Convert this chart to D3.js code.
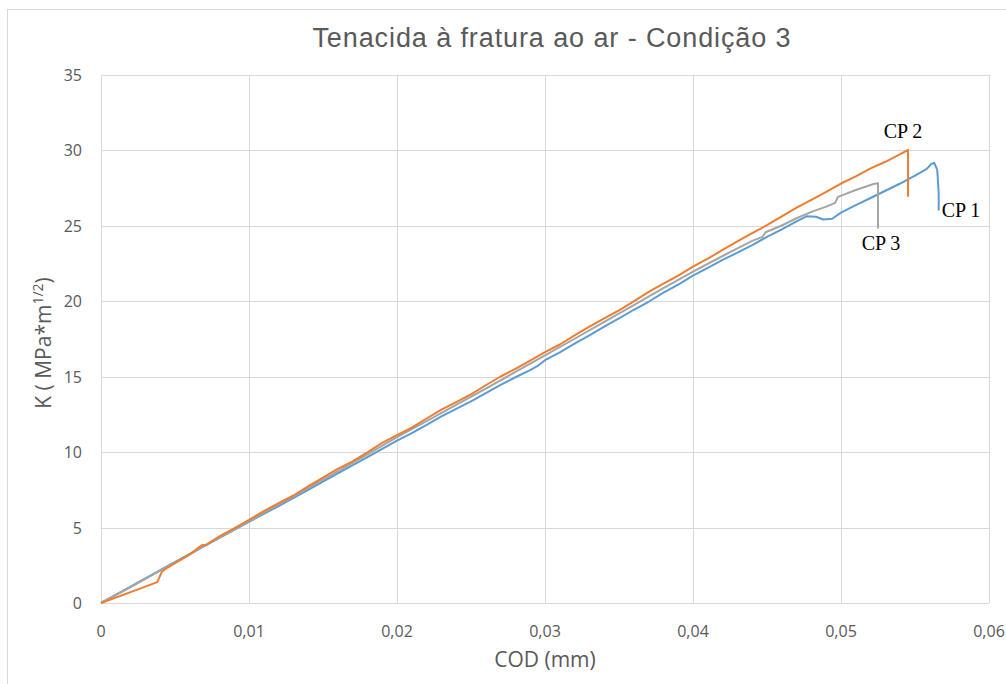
<!DOCTYPE html>
<html>
<head>
<meta charset="utf-8">
<script src="https://cdn.jsdelivr.net/npm/d3@7"></script>
<style>
  body { margin: 0; background: #fff; }
  text { fill: #595959; }
</style>
</head>
<body>
<div id="chart"></div>
<script>
// COD (mm), K (MPa*m^1/2)
const cp1 = [[0,0],[0.002,1.08],[0.004,2.18],[0.006,3.25],[0.008,4.32],[0.010,5.38],[0.012,6.42],[0.014,7.5],
  [0.016,8.58],[0.018,9.66],[0.020,10.75],[0.021,11.25],[0.022,11.8],[0.023,12.36],[0.024,12.86],[0.025,13.35],
  [0.026,13.9],[0.027,14.45],[0.028,14.95],[0.029,15.42],[0.0295,15.7],[0.030,16.08],[0.031,16.6],[0.032,17.18],
  [0.033,17.72],[0.034,18.3],[0.035,18.85],[0.036,19.42],[0.037,19.95],[0.038,20.55],[0.039,21.08],[0.040,21.68],
  [0.041,22.2],[0.042,22.72],[0.043,23.2],[0.044,23.7],[0.045,24.25],[0.046,24.75],[0.047,25.28],[0.0477,25.62],
  [0.0483,25.58],[0.0488,25.4],[0.0494,25.45],[0.050,25.85],[0.051,26.35],[0.052,26.82],[0.053,27.3],[0.054,27.78],
  [0.055,28.3],[0.0558,28.75],[0.0561,29.08],[0.0563,29.15],[0.0565,28.7],[0.0566,27.2],[0.0566,26.0]];
const cp2 = [[0,0],[0.002,0.72],[0.0038,1.38],[0.0039,1.6],[0.0041,2.05],[0.0045,2.35],[0.006,3.22],[0.0068,3.82],
  [0.0071,3.85],[0.008,4.42],[0.009,4.95],[0.010,5.5],[0.011,6.08],[0.012,6.62],[0.013,7.12],[0.014,7.72],
  [0.015,8.3],[0.016,8.88],[0.017,9.38],[0.018,9.98],[0.019,10.6],[0.020,11.12],[0.021,11.62],[0.022,12.22],
  [0.023,12.8],[0.024,13.3],[0.025,13.82],[0.026,14.42],[0.027,15.0],[0.028,15.5],[0.029,16.05],[0.030,16.62],
  [0.031,17.12],[0.032,17.72],[0.033,18.3],[0.034,18.85],[0.035,19.38],[0.036,19.98],[0.037,20.6],[0.038,21.15],
  [0.039,21.68],[0.040,22.28],[0.041,22.8],[0.042,23.38],[0.043,23.95],[0.044,24.5],[0.045,25.02],[0.046,25.6],
  [0.047,26.18],[0.048,26.7],[0.049,27.22],[0.050,27.78],[0.051,28.25],[0.052,28.78],[0.053,29.22],[0.054,29.72],
  [0.05453,30.0],[0.05453,26.9]];
const cp3 = [[0,0],[0.002,1.05],[0.004,2.15],[0.006,3.22],[0.008,4.33],[0.010,5.42],[0.012,6.52],[0.014,7.6],
  [0.016,8.72],[0.018,9.85],[0.020,10.98],[0.022,12.05],[0.024,13.12],[0.026,14.2],[0.028,15.3],[0.030,16.4],
  [0.032,17.5],[0.034,18.62],[0.036,19.72],[0.038,20.85],[0.040,21.95],[0.042,22.98],[0.044,23.98],[0.0447,24.25],
  [0.0449,24.55],[0.046,25.0],[0.047,25.48],[0.048,25.9],[0.049,26.25],[0.0496,26.5],[0.0498,26.9],[0.051,27.35],
  [0.0522,27.75],[0.0525,27.8],[0.0525,24.8]];

const seriesNames = ["CP 1", "CP 2", "CP 3"];
const seriesColors = ["#5b9bd5", "#ed7d31", "#a5a5a5"];
const xTicks = [0, 0.01, 0.02, 0.03, 0.04, 0.05, 0.06];
const yTicks = [0, 5, 10, 15, 20, 25, 30, 35];

const W = 1006, H = 684;
const svg = d3.select("#chart").append("svg")
  .attr("width", W).attr("height", H);

svg.append("rect").attr("x", 7.5).attr("y", 9.5)
  .attr("width", W).attr("height", H)
  .attr("fill", "#fff").attr("stroke", "#d9d9d9");

const x = d3.scaleLinear().domain([0, 0.06]).range([101, 989]);
const y = d3.scaleLinear().domain([0, 35]).range([603, 74.5]);

// gridlines
svg.append("g").selectAll("line").data(yTicks).enter().append("line")
  .attr("x1", x(0)).attr("x2", x(0.06))
  .attr("y1", d => Math.round(y(d)) + 0.5).attr("y2", d => Math.round(y(d)) + 0.5)
  .attr("stroke", "#d9d9d9");
svg.append("g").selectAll("line").data(xTicks).enter().append("line")
  .attr("y1", y(0)).attr("y2", y(35))
  .attr("x1", d => Math.round(x(d)) + 0.5).attr("x2", d => Math.round(x(d)) + 0.5)
  .attr("stroke", "#d9d9d9");

const fmt = d => d === 0 ? "0" : d3.format(".2f")(d).replace(".", ",");

svg.append("g").selectAll("text").data(xTicks).enter().append("text")
  .attr("x", d => x(d)).attr("y", 637)
  .attr("text-anchor", "middle")
  .style("font", "16px 'Open Sans'")
  .text(fmt);
svg.append("g").selectAll("text").data(yTicks).enter().append("text")
  .attr("x", 82).attr("y", d => y(d) + 6)
  .attr("text-anchor", "end")
  .style("font", "16px 'Open Sans'")
  .text(d => d);

// series
const line = d3.line().x(d => x(d[0])).y(d => y(d[1]));
[cp1, cp3, cp2].forEach((s, i) => {
  const idx = [0, 2, 1][i];
  svg.append("path").datum(s)
    .attr("d", line)
    .attr("fill", "none")
    .attr("stroke", seriesColors[idx])
    .attr("stroke-width", 2)
    .attr("stroke-linejoin", "round");
});

// titles
svg.append("text").attr("x", 552).attr("y", 47)
  .attr("text-anchor", "middle")
  .style("font", "27px 'Liberation Sans'")
  .style("letter-spacing", "0.9px")
  .text("Tenacida à fratura ao ar - Condição 3");

svg.append("text").attr("x", 545).attr("y", 667)
  .attr("text-anchor", "middle")
  .style("font", "21px 'Open Sans'")
  .text("COD (mm)");

const yt = svg.append("text")
  .attr("transform", "translate(51,343) rotate(-90)")
  .attr("text-anchor", "middle")
  .style("font", "21px 'Open Sans'");
yt.append("tspan").text("K ( MPa*m");
yt.append("tspan").attr("dy", -8).style("font-size", "14px").text("1/2");
yt.append("tspan").attr("dy", 8).text(")");

// series labels
const labelPos = [[961, 217], [903, 138], [881, 250]];
svg.append("g").selectAll("text").data(seriesNames).enter().append("text")
  .attr("x", (d, i) => labelPos[i][0]).attr("y", (d, i) => labelPos[i][1])
  .attr("text-anchor", "middle")
  .style("font", "20px 'Liberation Serif'")
  .style("fill", "#000")
  .text(d => d);
</script>
</body>
</html>
